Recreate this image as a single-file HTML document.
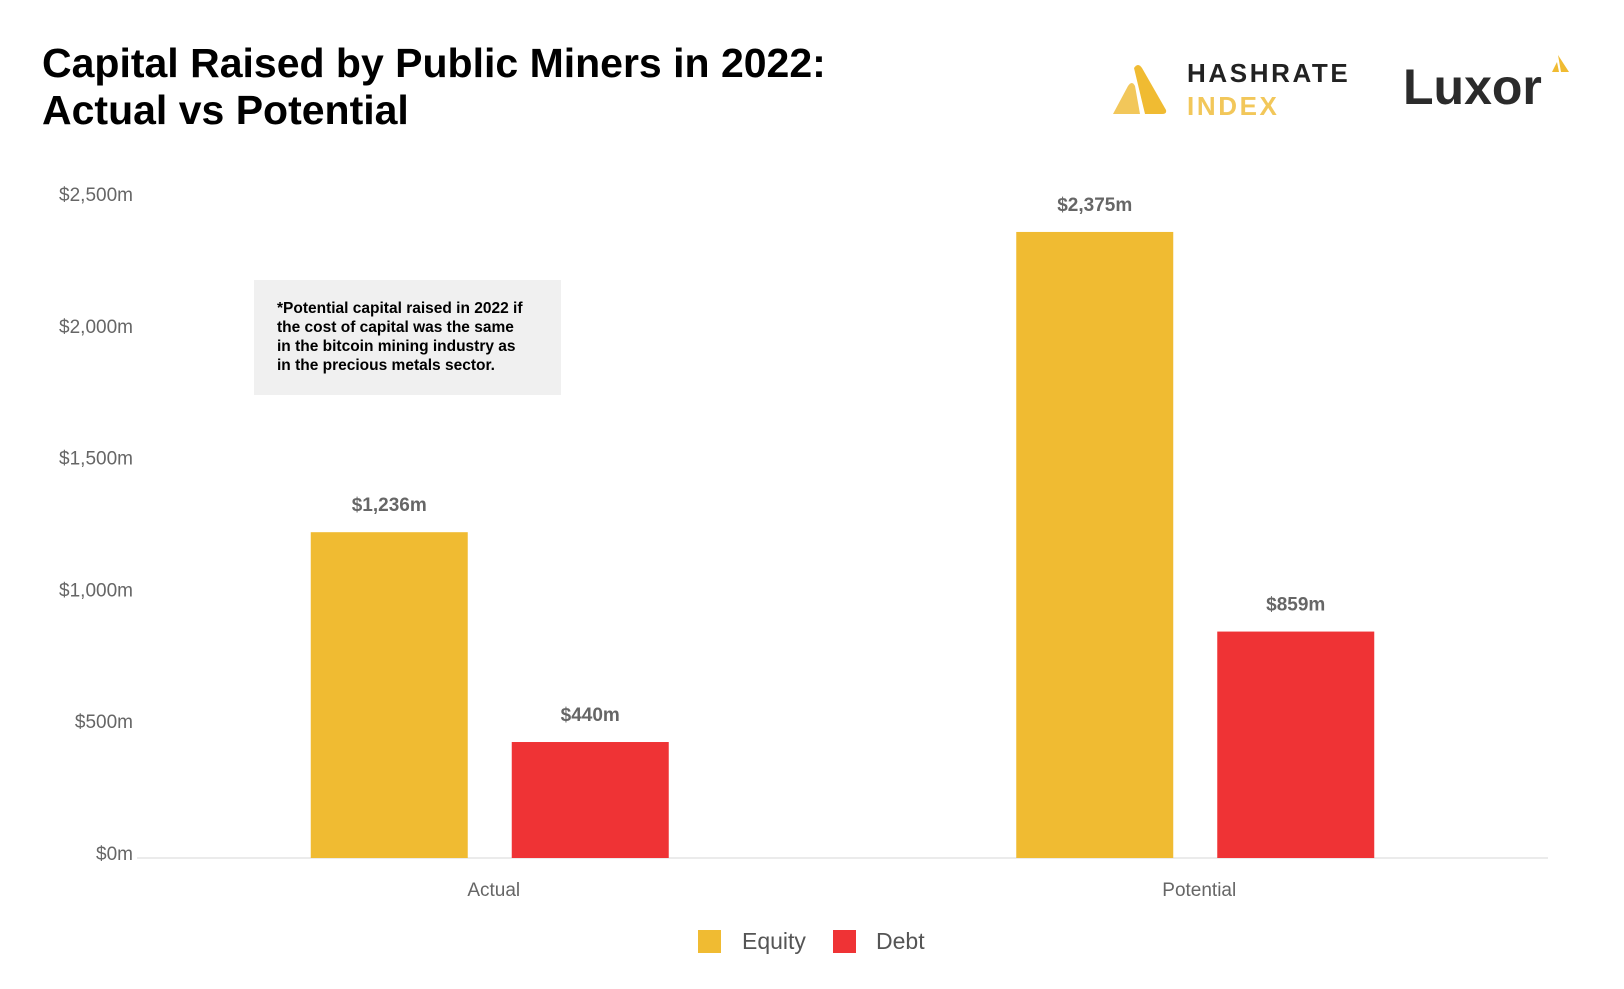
<!DOCTYPE html>
<html><head><meta charset="utf-8">
<style>
body{margin:0;background:#fff;}
#wrap{position:relative;width:1624px;height:989px;overflow:hidden;font-family:"Liberation Sans",sans-serif;}
svg text{font-family:"Liberation Sans",sans-serif;}
</style></head>
<body>
<div id="wrap">
<svg id="chart" width="1624" height="989">
  <text x="42" y="77" font-size="41" font-weight="bold" fill="#000">Capital Raised by Public Miners in 2022:</text>
  <text x="42" y="124" font-size="41" font-weight="bold" fill="#000">Actual vs Potential</text>
  <g>
    <path d="M1113 114 L1128 86 Q1132 80 1135 86 L1140 114 Z" fill="#F2C75A"/>
    <path d="M1134 68 Q1138 62 1142 68 L1166 110 Q1167 114 1162 114 L1145 114 Z" fill="#F0BB32"/>
    <text x="1187" y="82" font-size="26" font-weight="bold" letter-spacing="2.6" fill="#222">HASHRATE</text>
    <text x="1187" y="115" font-size="26" font-weight="bold" letter-spacing="2.6" fill="#F2C75A">INDEX</text>
  </g>
  <g>
    <text x="1403" y="104" font-size="50" font-weight="bold" fill="#2b2b2b">Luxor</text>
    <path d="M1552 72 L1557 62 L1559 72 Z M1558 55 L1569 72 L1561 72 Z" fill="#F0BB32"/>
  </g>
  <g id="yaxis"></g>
  <line x1="137" y1="858" x2="1548" y2="858" stroke="#ebebeb" stroke-width="2"/>
  <g id="bars"></g>
  <g>
    <rect x="254" y="280" width="307" height="115" fill="#f0f0f0"/>
    <text font-size="15.5" font-weight="bold" fill="#000">
      <tspan x="277" y="313">*Potential capital raised in 2022 if</tspan>
      <tspan x="277" y="332">the cost of capital was the same</tspan>
      <tspan x="277" y="351">in the bitcoin mining industry as</tspan>
      <tspan x="277" y="370">in the precious metals sector.</tspan>
    </text>
  </g>
  <g>
    <rect x="698" y="930" width="23" height="23" fill="#F0BB32"/>
    <text x="742" y="949" font-size="23" fill="#555">Equity</text>
    <rect x="833" y="930" width="23" height="23" fill="#EF3335"/>
    <text x="876" y="949" font-size="23" fill="#555">Debt</text>
  </g>
</svg>
</div>
<script>
const categories = ["Actual", "Potential"];
const equityValues = [1236, 2375];
const debtValues = [440, 859];
const equityLabels = ["$1,236m", "$2,375m"];
const debtLabels = ["$440m", "$859m"];
const yTicks = [0, 500, 1000, 1500, 2000, 2500];
const yTickLabels = ["$0m", "$500m", "$1,000m", "$1,500m", "$2,000m", "$2,500m"];

const NS = "http://www.w3.org/2000/svg";
const y0 = 858, yTop = 199, yMax = 2500;
function yScale(v){ return y0 - v / yMax * (y0 - yTop); }
const plotL = 137, plotR = 1548;
const groupW = (plotR - plotL) / categories.length;
function xCenter(i){ return plotL + groupW * (i + 0.5); }
const barW = 157, gap = 44;

function mk(tag, attrs){ const e = document.createElementNS(NS, tag); for (const k in attrs) e.setAttribute(k, attrs[k]); return e; }

const ya = document.getElementById('yaxis');
yTicks.forEach((t, i) => {
  const tx = mk('text', {x: 133, y: yScale(t) + 2, 'font-size': 19, fill: '#666', 'text-anchor': 'end'});
  tx.textContent = yTickLabels[i];
  
  
  ya.appendChild(tx);
});

const bars = document.getElementById('bars');
categories.forEach((c, i) => {
  const cx = xCenter(i);
  const series = [[equityValues[i], '#F0BB32', equityLabels[i], 'equity'], [debtValues[i], '#EF3335', debtLabels[i], 'debt']];
  series.forEach((s, j) => {
    const x = j === 0 ? cx - gap / 2 - barW : cx + gap / 2;
    const top = yScale(s[0]);
    const r = mk('rect', {x: x, y: top, width: barW, height: y0 - top, fill: s[1]});
    
    
    bars.appendChild(r);
    const lb = mk('text', {x: x + barW / 2, y: top - 21, 'font-size': 19, 'font-weight': 'bold', fill: '#666', 'text-anchor': 'middle'});
    lb.textContent = s[2];
    
    
    bars.appendChild(lb);
  });
  const cl = mk('text', {x: cx + 4, y: 896, 'font-size': 19, fill: '#666', 'text-anchor': 'middle'});
  cl.textContent = c;
  
  
  bars.appendChild(cl);
});
</script>
</body></html>
